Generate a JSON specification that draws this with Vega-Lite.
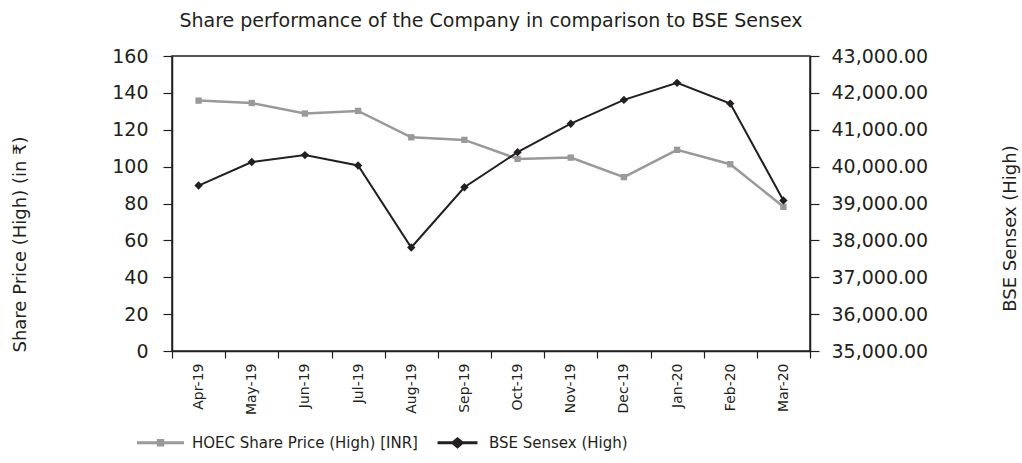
{
  "$schema": "https://vega.github.io/schema/vega-lite/v6.json",
  "width": 638,
  "height": 295,
  "autosize": "none",
  "padding": {"left": 172, "top": 56, "right": 212, "bottom": 112},
  "background": "white",
  "title": {
    "text": "Share performance of the Company in comparison to BSE Sensex",
    "font": "DejaVu Sans",
    "fontSize": 19,
    "fontWeight": "normal",
    "color": "#231f20",
    "anchor": "middle",
    "offset": 16
  },
  "config": {
    "view": {"stroke": "#231f20", "strokeWidth": 1.5},
    "axis": {
      "labelFont": "DejaVu Sans",
      "labelColor": "#231f20",
      "titleFont": "DejaVu Sans",
      "titleColor": "#231f20",
      "titleFontWeight": "normal",
      "domainColor": "#231f20",
      "domainWidth": 1.5,
      "tickColor": "#231f20",
      "tickWidth": 1.2,
      "grid": false
    }
  },
  "data": {
    "values": [
      {"month": "Apr-19", "series": "HOEC Share Price (High) [INR]", "value": 135.8},
      {"month": "May-19", "series": "HOEC Share Price (High) [INR]", "value": 134.5},
      {"month": "Jun-19", "series": "HOEC Share Price (High) [INR]", "value": 128.8},
      {"month": "Jul-19", "series": "HOEC Share Price (High) [INR]", "value": 130.2},
      {"month": "Aug-19", "series": "HOEC Share Price (High) [INR]", "value": 115.9},
      {"month": "Sep-19", "series": "HOEC Share Price (High) [INR]", "value": 114.5},
      {"month": "Oct-19", "series": "HOEC Share Price (High) [INR]", "value": 104.2},
      {"month": "Nov-19", "series": "HOEC Share Price (High) [INR]", "value": 104.9},
      {"month": "Dec-19", "series": "HOEC Share Price (High) [INR]", "value": 94.3},
      {"month": "Jan-20", "series": "HOEC Share Price (High) [INR]", "value": 109.1},
      {"month": "Feb-20", "series": "HOEC Share Price (High) [INR]", "value": 101.3},
      {"month": "Mar-20", "series": "HOEC Share Price (High) [INR]", "value": 78.2},
      {"month": "Apr-19", "series": "BSE Sensex (High)", "value": 39487},
      {"month": "May-19", "series": "BSE Sensex (High)", "value": 40125},
      {"month": "Jun-19", "series": "BSE Sensex (High)", "value": 40312},
      {"month": "Jul-19", "series": "BSE Sensex (High)", "value": 40032},
      {"month": "Aug-19", "series": "BSE Sensex (High)", "value": 37807},
      {"month": "Sep-19", "series": "BSE Sensex (High)", "value": 39441},
      {"month": "Oct-19", "series": "BSE Sensex (High)", "value": 40392},
      {"month": "Nov-19", "series": "BSE Sensex (High)", "value": 41164},
      {"month": "Dec-19", "series": "BSE Sensex (High)", "value": 41810},
      {"month": "Jan-20", "series": "BSE Sensex (High)", "value": 42273},
      {"month": "Feb-20", "series": "BSE Sensex (High)", "value": 41709},
      {"month": "Mar-20", "series": "BSE Sensex (High)", "value": 39083}
    ]
  },
  "encoding": {
    "x": {
      "field": "month",
      "type": "ordinal",
      "sort": null,
      "scale": {"type": "band", "paddingInner": 0, "paddingOuter": 0},
      "axis": {
        "title": null,
        "labelAngle": 270,
        "labelFontSize": 14,
        "labelPadding": 5,
        "tickSize": 7,
        "tickBand": "extent"
      }
    },
    "color": {
      "field": "series",
      "type": "nominal",
      "scale": {
        "domain": ["HOEC Share Price (High) [INR]", "BSE Sensex (High)"],
        "range": ["#999999", "#231f20"]
      },
      "legend": {
        "title": null,
        "orient": "none",
        "legendX": -35,
        "legendY": 363,
        "direction": "horizontal",
        "symbolSize": 2209,
        "labelFont": "DejaVu Sans",
        "labelFontSize": 15,
        "labelLimit": 0,
        "labelColor": "#231f20",
        "labelOffset": 8,
        "columnPadding": 16,
        "encode": {
          "symbols": {
            "update": {
              "shape": {"signal": "datum.value === 'BSE Sensex (High)' ? 'M-0.85,-0.065L0.85,-0.065L0.85,0.065L-0.85,0.065Z M0,-0.25L0.3,0L0,0.25L-0.3,0Z' : 'M-1,-0.065L1,-0.065L1,0.065L-1,0.065Z M-0.16,-0.16L0.16,-0.16L0.16,0.16L-0.16,0.16Z'"},
              "fill": {"signal": "datum.value === 'BSE Sensex (High)' ? '#231f20' : '#999999'"},
              "fillOpacity": {"value": 1},
              "stroke": {"value": "transparent"},
              "strokeWidth": {"value": 0}
            }
          }
        }
      }
    }
  },
  "layer": [
    {
      "transform": [{"filter": "datum.series === 'HOEC Share Price (High) [INR]'"}],
      "encoding": {
        "y": {
          "field": "value",
          "type": "quantitative",
          "scale": {"domain": [0, 160], "nice": false, "zero": false},
          "axis": {
            "orient": "left",
            "values": [0, 20, 40, 60, 80, 100, 120, 140, 160],
            "title": "Share Price (High) (in ₹)",
            "titleFontSize": 18,
            "titleAngle": 270,
            "titleX": -152,
            "titleY": 188,
            "titleAlign": "center",
            "titleBaseline": "middle",
            "labelFontSize": 19,
            "labelPadding": 15,
            "tickSize": 9
          }
        }
      },
      "layer": [
        {"mark": {"type": "line", "strokeWidth": 2.5}},
        {"mark": {"type": "point", "shape": "square", "filled": true, "size": 40, "opacity": 1}}
      ]
    },
    {
      "transform": [{"filter": "datum.series === 'BSE Sensex (High)'"}],
      "encoding": {
        "y": {
          "field": "value",
          "type": "quantitative",
          "scale": {"domain": [35000, 43000], "nice": false, "zero": false},
          "axis": {
            "orient": "right",
            "values": [35000, 36000, 37000, 38000, 39000, 40000, 41000, 42000, 43000],
            "format": ",.2f",
            "title": "BSE Sensex (High)",
            "titleFontSize": 18,
            "titleAngle": 270,
            "titleX": 200,
            "titleY": 172,
            "titleAlign": "center",
            "titleBaseline": "middle",
            "labelFontSize": 19,
            "labelPadding": 12,
            "tickSize": 9
          }
        }
      },
      "layer": [
        {"mark": {"type": "line", "strokeWidth": 2}},
        {"mark": {"type": "point", "shape": "diamond", "filled": true, "size": 70, "opacity": 1}}
      ]
    }
  ],
  "resolve": {"scale": {"y": "independent"}}
}
